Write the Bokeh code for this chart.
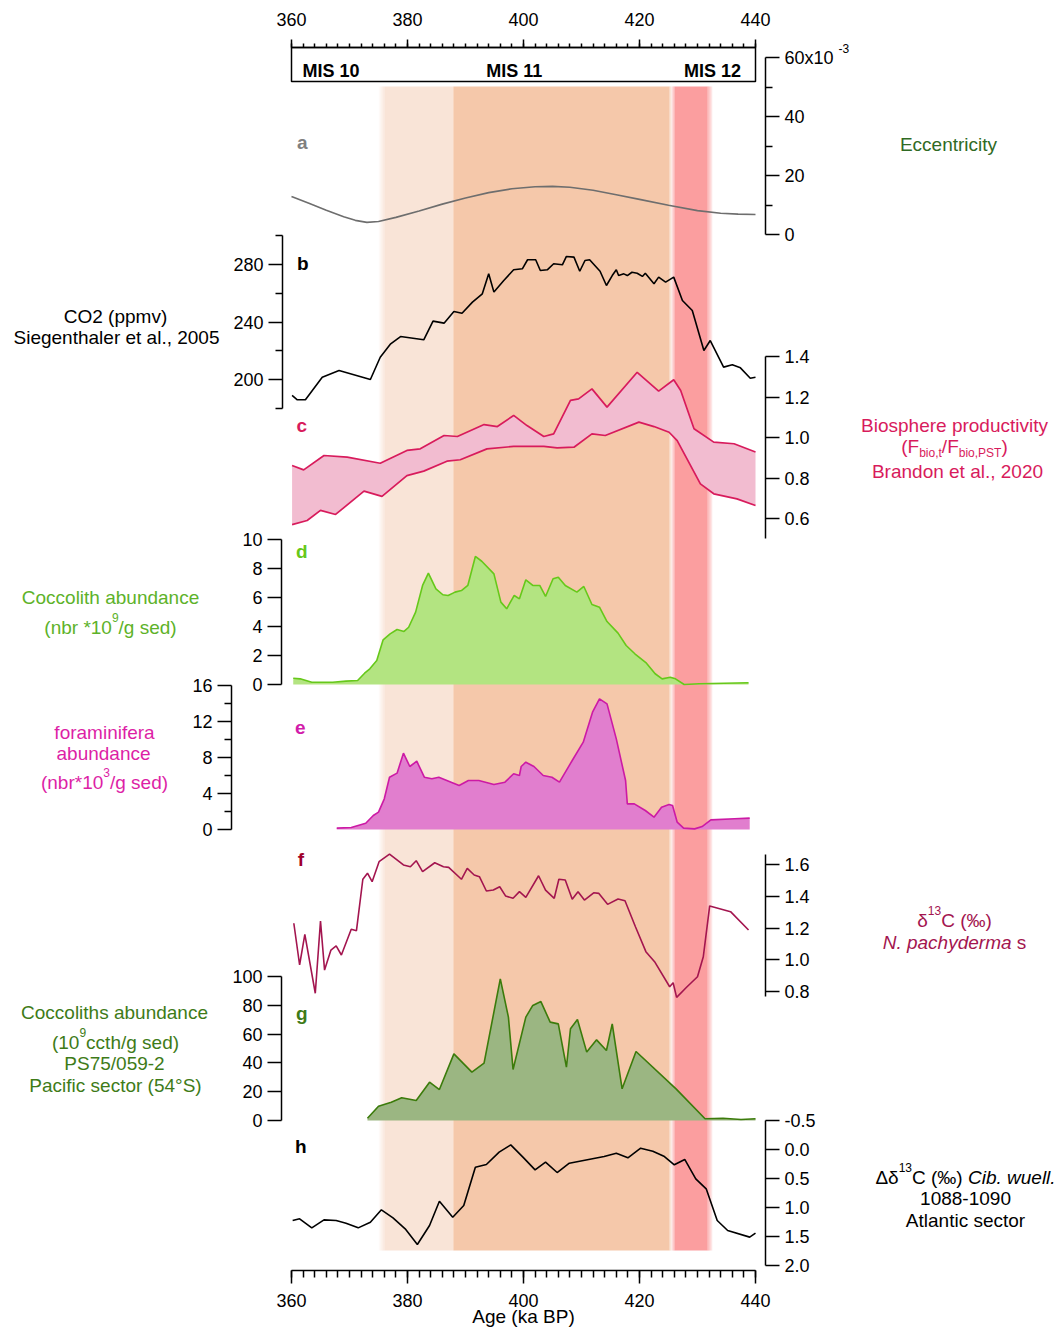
from bokeh.plotting import figure
from bokeh.models import Range1d, LinearAxis, FixedTicker, PrintfTickFormatter
from bokeh.core.properties import value
from bokeh.embed import file_html
from bokeh.resources import INLINE

FONT = "Liberation Sans"

# ---------------- data ----------------
age_ticks = [360, 380, 400, 420, 440]
age_minor = list(range(360, 441, 2))

# climate stages (ka BP)
stage_light = (375.5, 387.9)
stage_mid = (387.9, 425.35)
stage_red = (425.75, 432.2)

# a) eccentricity (x10^-3)
ecc_age = [360, 363, 366, 369, 371, 373, 375, 378, 382, 386, 390, 394, 398, 402,
           405, 408, 412, 416, 420, 425, 430, 434, 437, 440]
ecc_val = [12.9, 10.6, 8.2, 6.0, 4.8, 4.1, 4.4, 5.8, 8.0, 10.3, 12.4, 14.2, 15.5, 16.2,
           16.3, 16.0, 15.0, 13.5, 11.9, 9.9, 8.1, 7.2, 6.9, 6.8]

# b) CO2 (ppmv)
co2_age = [360.1, 361.0, 362.4, 365.3, 368.2, 373.6, 375.3, 377.1, 378.8, 382.8, 384.4,
           386.3, 388.0, 389.4, 391.2, 392.9, 394.0, 394.9, 396.6, 398.3, 399.8, 400.7,
           402.1, 402.9, 404.1, 405.2, 406.7, 407.4, 408.7, 409.7, 410.6, 411.4, 413.2,
           414.3, 415.3, 416.0, 416.4, 417.3, 417.9, 418.7, 419.6, 420.5, 421.0, 422.5,
           423.3, 424.5, 425.9, 427.4, 429.1, 431.1, 432.2, 434.5, 436.0, 437.4, 439.1, 440.0]
co2_val = [188.9, 185.9, 185.9, 201.6, 206.3, 200.0, 215.5, 224.8, 229.9, 227.6, 240.6,
           239.2, 247.3, 246.1, 253.8, 259.6, 273.5, 260.8, 268.9, 276.3, 277.0, 283.3,
           283.3, 275.8, 276.3, 280.5, 279.8, 285.6, 285.1, 275.3, 282.8, 283.3, 275.3,
           265.4, 272.3, 276.3, 272.3, 273.5, 272.3, 274.6, 273.9, 271.7, 273.9, 266.6,
           271.2, 267.7, 271.2, 255.0, 248.0, 220.2, 227.1, 208.6, 210.2, 208.1, 200.9, 201.6]

# c) biosphere productivity envelope
bio_up_age = [360.1, 362.1, 365.6, 369.6, 375.3, 379.9, 382.2, 386.3, 388.6, 393.2, 395.5,
              398.3, 400.6, 403.5, 405.2, 408.1, 409.5, 411.8, 414.4, 419.6, 423.3, 425.9,
              427.1, 429.4, 432.8, 436.3, 440.0]
bio_up_val = [0.862, 0.840, 0.911, 0.903, 0.873, 0.936, 0.944, 1.010, 1.005, 1.064, 1.054,
              1.109, 1.059, 1.005, 1.018, 1.183, 1.191, 1.240, 1.150, 1.322, 1.229, 1.285,
              1.232, 1.043, 0.977, 0.969, 0.928]
bio_lo_age = [360.1, 362.7, 365.0, 367.6, 372.5, 375.6, 379.9, 382.8, 386.8, 389.1, 393.7,
              398.3, 403.5, 405.8, 408.7, 411.8, 414.1, 419.9, 422.5, 425.1, 426.5, 430.5,
              432.8, 436.8, 440.0]
bio_lo_val = [0.570, 0.590, 0.640, 0.620, 0.735, 0.709, 0.812, 0.834, 0.883, 0.890, 0.944,
              0.956, 0.956, 0.949, 0.952, 1.018, 1.010, 1.076, 1.054, 1.026, 0.985, 0.771,
              0.722, 0.697, 0.664]

# d) coccolith abundance (nbr*10^9/g sed)
cocco_age = [360.3, 361.5, 363.5, 367.1, 369.4, 371.4, 372.6, 373.5, 374.7, 375.8, 377.0,
             378.2, 379.4, 380.2, 381.4, 382.6, 383.6, 384.9, 386.1, 387.0, 388.2, 389.3,
             390.4, 391.7, 392.8, 394.9, 396.1, 397.1, 398.4, 399.3, 400.4, 401.6, 402.8,
             403.8, 405.1, 406.0, 407.2, 409.2, 410.4, 411.8, 413.1, 414.4, 416.3, 417.7,
             419.2, 421.2, 422.7, 423.9, 425.3, 426.2, 427.7, 430.3, 438.8]
cocco_val = [0.43, 0.39, 0.16, 0.16, 0.23, 0.28, 0.78, 1.08, 1.66, 3.08, 3.49,
             3.79, 3.66, 3.95, 4.99, 6.83, 7.68, 6.60, 6.19, 6.14, 6.37, 6.48,
             6.83, 8.83, 8.50, 7.63, 5.68, 5.22, 6.14, 5.91, 7.22, 6.83, 6.83,
             6.07, 7.29, 7.40, 6.83, 6.37, 6.76, 5.52, 5.33, 4.34, 3.54, 2.69,
             2.12, 1.47, 0.74, 0.39, 0.50, 0.39, 0.0, 0.05, 0.12]

# e) foraminifera abundance (nbr*10^3/g sed)
foram_age = [367.8, 370.3, 372.8, 374.1, 375.0, 376.0, 376.9, 378.2, 379.3, 380.4, 381.6,
             382.9, 384.2, 385.4, 388.9, 390.5, 392.3, 394.9, 396.8, 398.3, 399.3, 399.6,
             400.4, 401.8, 403.4, 404.9, 406.2, 408.4, 410.3, 411.9, 413.1, 414.4, 416.0,
             417.6, 417.9, 419.1, 421.0, 422.5, 423.8, 425.1, 425.7, 426.5, 427.6, 429.5,
             430.8, 432.3, 436.4, 439.0]
foram_val = [0.15, 0.22, 0.70, 1.56, 1.93, 3.41, 5.81, 6.26, 8.48, 7.00, 7.59,
             5.81, 5.63, 5.81, 4.89, 5.44, 5.44, 5.00, 5.26, 6.19, 6.00, 7.00,
             7.48, 7.00, 6.00, 5.81, 5.26, 7.67, 9.70, 13.04, 14.52, 13.96, 10.07,
             5.44, 2.85, 2.85, 2.11, 1.37, 2.48, 2.78, 2.67, 0.81, 0.15, 0.07,
             0.33, 1.07, 1.19, 1.26]

# f) d13C N. pachyderma s (permil)
d13c_age = [360.4, 361.4, 362.3, 364.1, 365.0, 365.7, 366.8, 367.7, 368.6, 370.3, 371.2,
            372.3, 373.1, 373.9, 375.1, 376.9, 379.3, 380.5, 381.5, 382.6, 384.7, 386.2,
            387.1, 389.3, 390.3, 391.5, 392.4, 393.6, 394.8, 395.9, 396.9, 398.2, 399.3,
            400.4, 402.6, 403.8, 405.3, 406.1, 407.2, 408.4, 409.4, 410.5, 412.1, 413.0,
            414.5, 416.3, 417.5, 419.3, 421.1, 422.6, 425.2, 425.8, 426.4, 428.2, 430.0,
            431.0, 432.1, 435.7, 438.8]
d13c_val = [1.230, 0.967, 1.160, 0.789, 1.244, 0.935, 1.061, 1.087, 1.030, 1.192, 1.183,
            1.507, 1.545, 1.492, 1.618, 1.666, 1.597, 1.586, 1.624, 1.555, 1.611, 1.586,
            1.582, 1.507, 1.576, 1.534, 1.523, 1.433, 1.439, 1.460, 1.402, 1.387, 1.429,
            1.393, 1.529, 1.439, 1.387, 1.507, 1.502, 1.381, 1.429, 1.376, 1.422, 1.418,
            1.349, 1.383, 1.372, 1.208, 1.051, 0.988, 0.830, 0.855, 0.763, 0.830, 0.893,
            1.019, 1.339, 1.303, 1.187]

# g) coccoliths abundance PS75/059-2 (10^9 ccth/g sed)
ps75_age = [373.1, 375.0, 377.2, 379.0, 381.5, 383.8, 385.5, 388.0, 391.1, 393.2, 396.0,
            397.4, 398.2, 400.4, 401.6, 403.0, 404.6, 406.0, 407.4, 408.1, 409.3, 410.9,
            412.6, 414.3, 415.3, 417.0, 419.4, 426.3, 431.3, 434.4, 437.5, 440.0]
ps75_val = [1.6, 9.9, 12.7, 15.8, 13.9, 26.6, 21.5, 46.3, 33.6, 39.8, 98.4,
            71.8, 35.4, 71.8, 79.9, 82.6, 68.3, 67.1, 37.0, 63.7, 70.1, 47.5,
            56.0, 48.6, 67.1, 22.0, 47.9, 22.0, 1.2, 1.6, 0.7, 1.2]

# h) Delta d13C Cib. wuell. 1088-1090 (permil, reversed axis)
dd13c_age = [360.2, 361.4, 363.5, 365.6, 367.7, 369.4, 371.5, 373.6, 375.5, 377.5, 379.6,
             381.7, 383.8, 385.5, 387.8, 389.7, 391.7, 393.6, 395.8, 397.8, 399.9, 402.0,
             403.8, 405.8, 407.9, 413.9, 416.0, 418.0, 420.2, 422.3, 424.3, 426.0, 427.8,
             429.7, 431.5, 433.4, 435.2, 439.0, 440.0]
dd13c_val = [1.224, 1.195, 1.351, 1.213, 1.224, 1.270, 1.351, 1.253, 1.040, 1.178, 1.368,
             1.638, 1.310, 0.891, 1.167, 0.966, 0.305, 0.259, 0.046, -0.080, 0.132, 0.351,
             0.218, 0.397, 0.236, 0.121, 0.063, 0.144, -0.023, 0.029, 0.121, 0.264, 0.172,
             0.506, 0.678, 1.224, 1.397, 1.511, 1.443]

# ---------------- colours ----------------
C_BIO = "#D81B5C"
C_BIO_FILL = "#F2BCD0"
C_D13 = "#A3154F"
C_COC_TXT, C_COC_LINE, C_COC_FILL = "#5DB229", "#66C81A", "#B3E481"
C_FOR_TXT, C_FOR_LINE, C_FOR_FILL = "#DD1FA6", "#CC1AA5", "#E17ECE"
C_PS_TXT, C_PS_LINE, C_PS_FILL = "#3E7B18", "#3B7B0B", "#9BB682"
C_ECC_TXT = "#2F6A24"

# ---------------- figure geometry ----------------
W, H = 1059, 1329
X0, Y0 = 0, 0            # page offset of the canvas
PX_PER_KA = 5.8
AGE0_PX = 291            # page x of 360 ka

p = figure(width=W, height=H, output_backend="svg", toolbar_location=None,
           x_range=Range1d(X0, X0 + W), y_range=Range1d(Y0 + H, Y0),
           x_axis_location=None, y_axis_location=None,
           min_border=0, outline_line_color=None, background_fill_color="white")
p.grid.visible = False

p.extra_x_ranges = {"age": Range1d(360 - (AGE0_PX - X0) / PX_PER_KA,
                                   360 + (X0 + W - AGE0_PX) / PX_PER_KA)}


def lin_range(v1, y1, v2, y2):
    k = (v2 - v1) / (y2 - y1)
    return Range1d(start=v1 + (Y0 + H - y1) * k, end=v1 + (Y0 - y1) * k)


p.extra_y_ranges = {
    "ecc": lin_range(0, 234, 60, 57),
    "co2": lin_range(200, 379, 280, 264),
    "bio": lin_range(0.6, 518, 1.4, 356),
    "cocco": lin_range(0, 684, 10, 539),
    "foram": lin_range(0, 829, 16, 685),
    "d13c": lin_range(0.8, 991, 1.6, 864),
    "ps75": lin_range(0, 1120, 100, 976),
    "dd13c": lin_range(0, 1149, 2.0, 1265),
}


def style_axis(ax, major_out=14, minor_out=7, standoff=5):
    ax.axis_line_color = "black"
    ax.axis_line_width = 1.5
    ax.major_tick_line_color = "black"
    ax.major_tick_line_width = 1.5
    ax.minor_tick_line_color = "black"
    ax.minor_tick_line_width = 1.5
    ax.major_tick_in = 0
    ax.major_tick_out = major_out
    ax.minor_tick_in = 0
    ax.minor_tick_out = minor_out
    ax.major_label_text_font = FONT
    ax.major_label_text_font_size = "18px"
    ax.major_label_text_color = "black"
    ax.major_label_standoff = standoff


def y_axis(rng, side, x_px, bounds, ticks, minor=(), fmt=None, overrides=None):
    ax = LinearAxis(y_range_name=rng, fixed_location=x_px, bounds=bounds,
                    ticker=FixedTicker(ticks=list(ticks), minor_ticks=list(minor)))
    style_axis(ax)
    if fmt:
        ax.formatter = PrintfTickFormatter(format=fmt)
    if overrides:
        ax.major_label_overrides = overrides
    p.add_layout(ax, side)


# ---------------- stage bands ----------------
BAND_TOP, BAND_BOT = 86, 1250


def band(left, right, color, blur_l=0.0, blur_r=0.0, n=6):
    p.quad(left=[left + blur_l / 2], right=[right - blur_r / 2], top=BAND_TOP, bottom=BAND_BOT,
           fill_color=color, line_color=None, x_range_name="age")
    for blur, edge, sign in ((blur_l, left, 1), (blur_r, right, -1)):
        if blur <= 0:
            continue
        step = blur / n
        ls, rs, al = [], [], []
        for i in range(n):
            a = edge - sign * blur / 2 + sign * i * step
            b = a + sign * step
            ls.append(min(a, b)); rs.append(max(a, b)); al.append((i + 0.5) / n)
        p.quad(left=ls, right=rs, top=BAND_TOP, bottom=BAND_BOT, fill_color=color,
               fill_alpha=al, line_color=None, x_range_name="age")


band(stage_light[0], stage_light[1], "#F9E4D7", blur_l=1.0)
band(stage_mid[0], stage_mid[1], "#F5C8AA", blur_r=0.4)
band(stage_red[0], stage_red[1], "#FB9E9F", blur_l=0.7, blur_r=0.9)

# MIS box on top
p.quad(left=[360], right=[440], top=[47], bottom=[81], fill_color="white",
       line_color="black", line_width=1.5, x_range_name="age")

# ---------------- series ----------------
p.line(ecc_age, ecc_val, x_range_name="age", y_range_name="ecc", line_color="#6E6E6E", line_width=1.6)

p.line(co2_age, co2_val, x_range_name="age", y_range_name="co2", line_color="black", line_width=1.6)

p.patch(bio_up_age + bio_lo_age[::-1], bio_up_val + bio_lo_val[::-1], x_range_name="age",
        y_range_name="bio", fill_color=C_BIO_FILL, line_color=None)
p.line(bio_up_age, bio_up_val, x_range_name="age", y_range_name="bio", line_color=C_BIO, line_width=1.7)
p.line(bio_lo_age, bio_lo_val, x_range_name="age", y_range_name="bio", line_color=C_BIO, line_width=1.7)

p.varea(x=cocco_age, y1=[0] * len(cocco_age), y2=cocco_val, x_range_name="age",
        y_range_name="cocco", fill_color=C_COC_FILL)
p.line(cocco_age, cocco_val, x_range_name="age", y_range_name="cocco", line_color=C_COC_LINE, line_width=1.6)

p.varea(x=foram_age, y1=[0] * len(foram_age), y2=foram_val, x_range_name="age",
        y_range_name="foram", fill_color=C_FOR_FILL)
p.line(foram_age, foram_val, x_range_name="age", y_range_name="foram", line_color=C_FOR_LINE, line_width=1.6)

p.line(d13c_age, d13c_val, x_range_name="age", y_range_name="d13c", line_color=C_D13, line_width=1.6)

p.varea(x=ps75_age, y1=[0] * len(ps75_age), y2=ps75_val, x_range_name="age",
        y_range_name="ps75", fill_color=C_PS_FILL)
p.line(ps75_age, ps75_val, x_range_name="age", y_range_name="ps75", line_color=C_PS_LINE, line_width=1.6)

p.line(dd13c_age, dd13c_val, x_range_name="age", y_range_name="dd13c", line_color="black", line_width=1.6)

# ---------------- axes ----------------
top = LinearAxis(x_range_name="age", fixed_location=47, bounds=(360, 440),
                 ticker=FixedTicker(ticks=age_ticks, minor_ticks=age_minor))
style_axis(top, major_out=8, minor_out=4, standoff=14)
p.add_layout(top, "above")

bot = LinearAxis(x_range_name="age", fixed_location=1270, bounds=(360, 440),
                 ticker=FixedTicker(ticks=age_ticks, minor_ticks=age_minor))
style_axis(bot, major_out=13, minor_out=7, standoff=10)
p.add_layout(bot, "below")

y_axis("ecc", "right", 765, (0, 60), [0, 20, 40, 60], [10, 30, 50], overrides={60: "60x10"})
y_axis("co2", "left", 282, (180, 300), [200, 240, 280], [180, 220, 260, 300])
y_axis("bio", "right", 765, (0.5, 1.4), [0.6, 0.8, 1.0, 1.2, 1.4], fmt="%.1f")
y_axis("cocco", "left", 281, (0, 10), [0, 2, 4, 6, 8, 10])
y_axis("foram", "left", 231, (0, 16), [0, 4, 8, 12, 16], [2, 6, 10, 14])
y_axis("d13c", "right", 765, (0.77, 1.66), [0.8, 1.0, 1.2, 1.4, 1.6], fmt="%.1f")
y_axis("ps75", "left", 281, (0, 100), [0, 20, 40, 60, 80, 100])
y_axis("dd13c", "right", 765, (-0.5, 2.0), [-0.5, 0.0, 0.5, 1.0, 1.5, 2.0], fmt="%.1f")

# ---------------- texts ----------------
AW = {' ': .278, '(': .333, ')': .333, '*': .389, '/': .278, '.': .278, ',': .278, '-': .333,
      '°': .4, '‰': 1.0, 'a': .556, 'b': .556, 'c': .5, 'd': .556, 'e': .556, 'f': .278,
      'g': .556, 'h': .556, 'i': .222, 'k': .5, 'l': .222, 'm': .833, 'n': .556, 'o': .556,
      'p': .556, 'r': .333, 's': .5, 't': .278, 'u': .556, 'v': .5, 'w': .722, 'x': .5,
      'y': .5, 'z': .5, 'A': .667, 'B': .667, 'C': .722, 'E': .667, 'F': .611, 'I': .278,
      'M': .833, 'N': .722, 'O': .778, 'P': .667, 'S': .667, 'T': .611, 'δ': .556, 'Δ': .668}


def tw(s, size):
    return sum(AW.get(ch, .556) for ch in s) * size


def rich(parts, cx, cy, color, size=19, align="center", bold=False):
    """Place a line of text whose visual centre is (cx, cy); parts may be sup/sub/italic."""
    items, total = [], 0.0
    for s, kind in parts:
        fs = size if kind in ("n", "i") else round(size * 0.63)
        w = tw(s, fs) * (1.06 if bold else 1.0)
        items.append((s, kind, fs, w))
        total += w
    x = cx - total / 2 if align == "center" else (cx if align == "left" else cx - total)
    for s, kind, fs, w in items:
        dy = -0.52 * size if kind == "sup" else (0.33 * size if kind == "sub" else 0)
        style = "italic" if kind == "i" else ("bold" if bold else "normal")
        p.text(x=[x], y=[cy + dy], text=[s], text_align="left", text_baseline="middle",
               text_font=value(FONT), text_font_size=value(f"{fs}px"), text_color=color,
               text_font_style=style)
        x += w


# MIS labels
rich([("MIS 10", "n")], 302, 70, "black", size=18, align="left", bold=True)
rich([("MIS 11", "n")], 516, 70, "black", size=18, bold=True)
rich([("MIS 12", "n")], 744, 70, "black", size=18, align="right", bold=True)

# eccentricity exponent
rich([("-3", "n")], 838, 48, "black", size=12, align="left")

# panel letters
for letter, lx, ly, col in [("a", 302, 142, "#808080"), ("b", 302, 263, "black"),
                            ("c", 301, 425, C_BIO), ("d", 301, 551, "#66C81A"),
                            ("e", 300, 727, "#D21BAA"), ("f", 300, 859, "#A0002A"),
                            ("g", 301, 1013, C_PS_TXT), ("h", 300, 1146, "black")]:
    rich([(letter, "n")], lx, ly, col, size=19, bold=True)

# left-hand labels
rich([("CO2 (ppmv)", "n")], 115, 316, "black")
rich([("Siegenthaler et al., 2005", "n")], 116, 337, "black")
rich([("Coccolith abundance", "n")], 110, 597, C_COC_TXT)
rich([("(nbr *10", "n"), ("9", "sup"), ("/g sed)", "n")], 110, 627, C_COC_TXT)
rich([("foraminifera", "n")], 104, 732, C_FOR_TXT)
rich([("abundance", "n")], 103, 753, C_FOR_TXT)
rich([("(nbr*10", "n"), ("3", "sup"), ("/g sed)", "n")], 104, 782, C_FOR_TXT)
rich([("Coccoliths abundance", "n")], 114, 1012, C_PS_TXT)
rich([("(10", "n"), ("9", "sup"), ("ccth/g sed)", "n")], 115, 1042, C_PS_TXT)
rich([("PS75/059-2", "n")], 114, 1063, C_PS_TXT)
rich([("Pacific sector (54°S)", "n")], 115, 1085, C_PS_TXT)

# right-hand labels
rich([("Eccentricity", "n")], 948, 144, C_ECC_TXT)
rich([("Biosphere productivity", "n")], 954, 425, C_BIO)
rich([("(F", "n"), ("bio,t", "sub"), ("/F", "n"), ("bio,PST", "sub"), (")", "n")], 954, 446, C_BIO)
rich([("Brandon et al., 2020", "n")], 957, 471, C_BIO)
rich([("δ", "n"), ("13", "sup"), ("C (‰)", "n")], 954, 920, C_D13)
rich([("N. pachyderma ", "i"), ("s", "n")], 954, 942, C_D13)
rich([("Δδ", "n"), ("13", "sup"), ("C (‰) ", "n"), ("Cib. wuell.", "i")], 965, 1177, "black")
rich([("1088-1090", "n")], 965, 1198, "black")
rich([("Atlantic sector", "n")], 965, 1220, "black")

# x-axis title
rich([("Age (ka BP)", "n")], 523, 1316, "black")

open("out.html", "w").write(file_html(p, INLINE))
